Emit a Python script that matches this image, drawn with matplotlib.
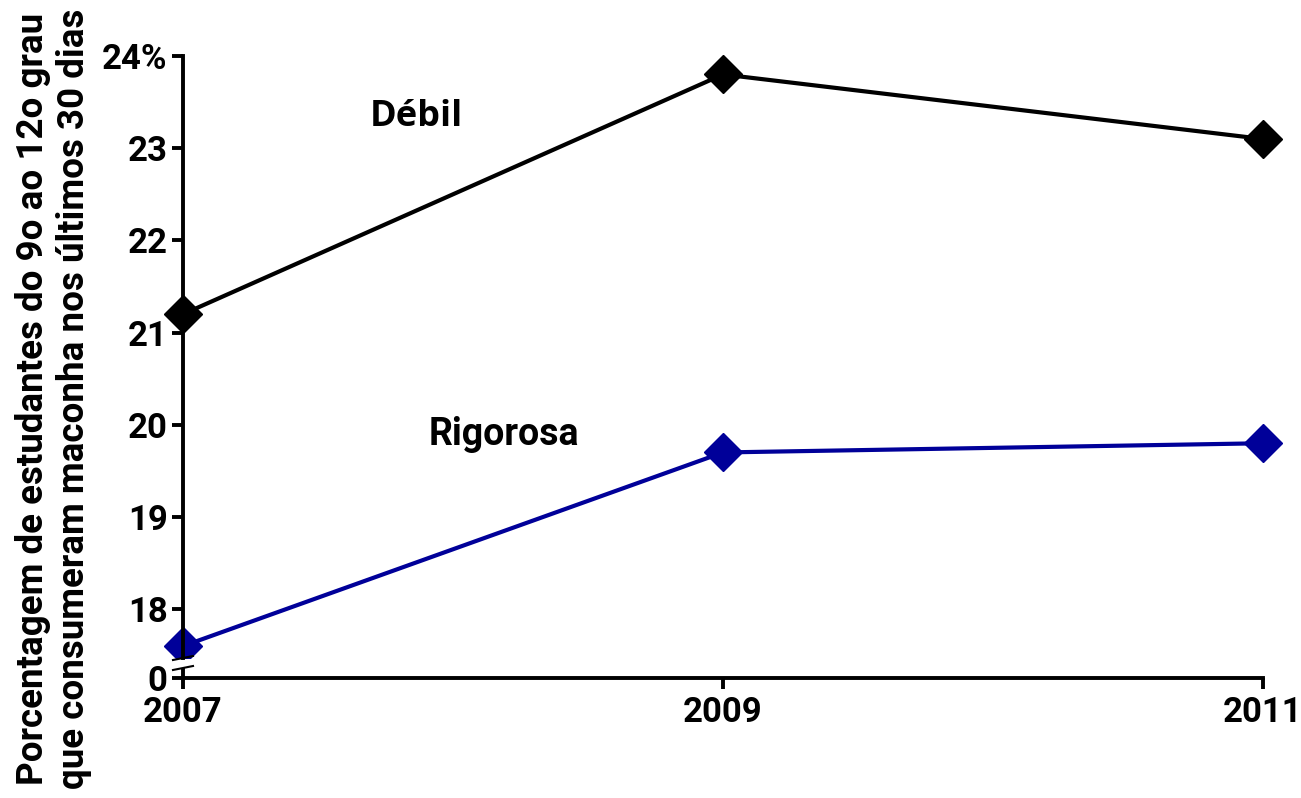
import matplotlib
matplotlib.use("Agg")
import matplotlib.pyplot as plt
from matplotlib.patches import Rectangle
from matplotlib.lines import Line2D

years = [2007, 2009, 2011]
debil = [21.2, 23.8, 23.1]
rigorosa = [17.6, 19.7, 19.8]
ytick_vals = [18, 19, 20, 21, 22, 23, 24]
ytick_labels = ["18", "19", "20", "21", "22", "23", "24%"]
xtick_labels = ["2007", "2009", "2011"]

plt.rcParams['font.family'] = ['Roboto', 'DejaVu Sans']
plt.rcParams['font.weight'] = 'bold'

W, H = 1301, 798
fig = plt.figure(figsize=(W / 100, H / 100), dpi=100)
left, right, top, bottom = 183, 1263, 56, 678
ax = fig.add_axes([left / W, 1 - bottom / H, (right - left) / W, (bottom - top) / H])

px_per_unit = 92.2
ymax = 24
ymin = ymax - (bottom - top) / px_per_unit
ybreak = ymax - (658 - top) / px_per_unit
ax.set_xlim(2007, 2011)
ax.set_ylim(ymin, ymax)

clip = Rectangle((-0.2, (ybreak - ymin) / (ymax - ymin)), 1.4, 2, transform=ax.transAxes)
for vals, col in [(debil, 'black'), (rigorosa, '#000099')]:
    ln, = ax.plot(years, vals, color=col, lw=3, marker='D', markersize=19.5,
                  clip_on=True)
    ln.set_clip_path(clip)

for s in ['top', 'right']:
    ax.spines[s].set_visible(False)
ax.spines['left'].set_bounds(ybreak, ymax)
ax.spines['left'].set_linewidth(2.8)
ax.spines['bottom'].set_linewidth(2.8)

# lower left spine segment below the break
y_low_top = ymax - (668 - top) / px_per_unit
ax.plot([2007, 2007], [ymin, y_low_top], color='black', lw=2.8, clip_on=False,
        solid_capstyle='butt')
# break marks
def xpx(p):
    return (p - left) / (right - left) * 4 + 2007
def ypx(p):
    return ymax - (p - top) / px_per_unit
for y0 in [660, 670]:
    ax.add_line(Line2D([xpx(173), xpx(193)], [ypx(y0), ypx(y0 - 4)],
                       color='black', lw=1.5, clip_on=False))

ax.set_yticks(ytick_vals + [ymin])
ax.set_yticklabels(ytick_labels + ["0"])
ax.set_xticks(years)
ax.set_xticklabels(xtick_labels)
ax.tick_params(axis='both', direction='out', length=8, width=2.8, labelsize=25, pad=3,
               colors='black')
ax.tick_params(axis='x', pad=5)
for lab in ax.get_xticklabels() + ax.get_yticklabels():
    lab.set_fontweight('bold')

ax.text(2007.863, 23.34, "Débil", fontsize=26, fontweight='bold', ha='center', va='center',
        family=['Open Sans', 'DejaVu Sans'])
ax.text(2008.19, 19.89, "Rigorosa", fontsize=27, fontweight='bold', ha='center', va='center')

fig.text(0.041, 0.5, "Porcentagem de estudantes do 9o ao 12o grau\nque consumeram maconha nos últimos 30 dias",
         rotation=90, ha='center', va='center', fontsize=26.5, fontweight='bold',
         multialignment='center', linespacing=1.2)

fig.savefig("out.png", dpi=100)
